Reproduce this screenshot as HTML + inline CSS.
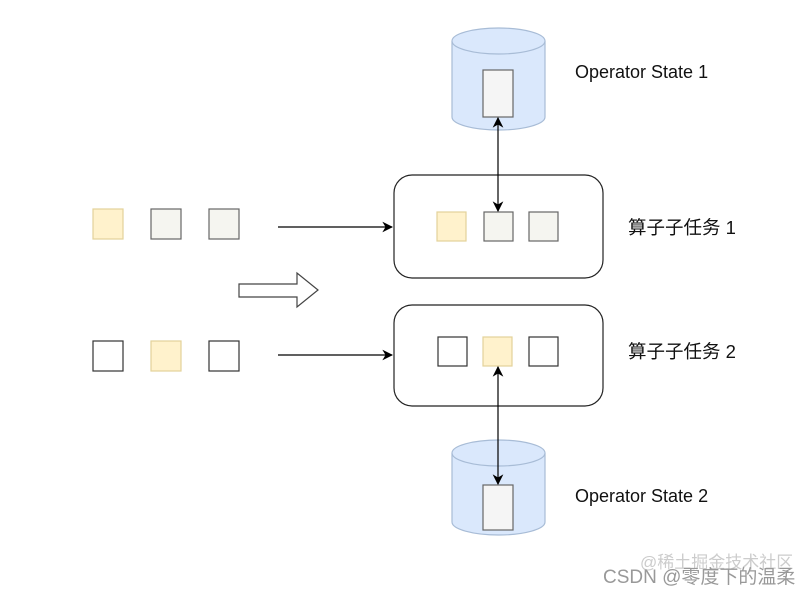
<!DOCTYPE html>
<html><head><meta charset="utf-8"><style>
html,body{margin:0;padding:0;background:#fff;width:809px;height:592px;overflow:hidden}
text{font-family:"Liberation Sans","Noto Sans CJK SC",sans-serif}
</style></head><body>
<svg width="809" height="592" viewBox="0 0 809 592" xmlns="http://www.w3.org/2000/svg">
<defs>
<marker id="a" viewBox="0 0 10 10" refX="9" refY="5" markerWidth="9" markerHeight="9" orient="auto-start-reverse"><path d="M0,0 L10,5 L0,10 L3,5 z" fill="#000"/></marker>
</defs>
<path d="M452,41 L452,117 A46.5,13 0 0 0 545,117 L545,41" fill="#dae8fc" stroke="#a8bcd6" stroke-width="1.2"/>
<ellipse cx="498.5" cy="41" rx="46.5" ry="13" fill="#dae8fc" stroke="#a8bcd6" stroke-width="1.2"/>
<rect x="483" y="70" width="30" height="47" fill="#f5f5f5" stroke="#666" stroke-width="1.2"/>
<path d="M452,453 L452,522 A46.5,13 0 0 0 545,522 L545,453" fill="#dae8fc" stroke="#a8bcd6" stroke-width="1.2"/>
<ellipse cx="498.5" cy="453" rx="46.5" ry="13" fill="#dae8fc" stroke="#a8bcd6" stroke-width="1.2"/>
<rect x="483" y="485" width="30" height="45" fill="#f5f5f5" stroke="#666" stroke-width="1.2"/>
<rect x="394" y="175" width="209" height="103" rx="18" fill="#fff" stroke="#222" stroke-width="1.2"/>
<rect x="394" y="305" width="209" height="101" rx="18" fill="#fff" stroke="#222" stroke-width="1.2"/>
<rect x="437" y="212" width="29" height="29" fill="#fff2cc" stroke="#e3d29a" stroke-width="1.2"/>
<rect x="484" y="212" width="29" height="29" fill="#f5f5f0" stroke="#666" stroke-width="1.2"/>
<rect x="529" y="212" width="29" height="29" fill="#f5f5f0" stroke="#666" stroke-width="1.2"/>
<rect x="438" y="337" width="29" height="29" fill="#fff" stroke="#333" stroke-width="1.2"/>
<rect x="483" y="337" width="29" height="29" fill="#fff2cc" stroke="#e3d29a" stroke-width="1.2"/>
<rect x="529" y="337" width="29" height="29" fill="#fff" stroke="#333" stroke-width="1.2"/>
<rect x="93" y="209" width="30" height="30" fill="#fff2cc" stroke="#e3d29a" stroke-width="1.2"/>
<rect x="151" y="209" width="30" height="30" fill="#f5f5f0" stroke="#666" stroke-width="1.2"/>
<rect x="209" y="209" width="30" height="30" fill="#f5f5f0" stroke="#666" stroke-width="1.2"/>
<rect x="93" y="341" width="30" height="30" fill="#fff" stroke="#333" stroke-width="1.2"/>
<rect x="151" y="341" width="30" height="30" fill="#fff2cc" stroke="#e3d29a" stroke-width="1.2"/>
<rect x="209" y="341" width="30" height="30" fill="#fff" stroke="#333" stroke-width="1.2"/>
<line x1="278" y1="227" x2="392" y2="227" stroke="#000" stroke-width="1.2" marker-end="url(#a)"/>
<line x1="278" y1="355" x2="392" y2="355" stroke="#000" stroke-width="1.2" marker-end="url(#a)"/>
<line x1="498" y1="118" x2="498" y2="211" stroke="#000" stroke-width="1.2" marker-start="url(#a)" marker-end="url(#a)"/>
<line x1="498" y1="367" x2="498" y2="484" stroke="#000" stroke-width="1.2" marker-start="url(#a)" marker-end="url(#a)"/>
<path d="M239,284 L297,284 L297,273 L318,290 L297,307 L297,297 L239,297 Z" fill="#fff" stroke="#444" stroke-width="1.2"/>
<text x="575" y="78" font-size="18" fill="#111">Operator State 1</text>
<text x="628" y="234" font-size="18.5" fill="#111">算子子任务 1</text>
<text x="628" y="358" font-size="18.5" fill="#111">算子子任务 2</text>
<text x="575" y="502" font-size="18" fill="#111">Operator State 2</text>
<text x="640" y="568" font-size="17" fill="#ccc">@稀土掘金技术社区</text>
<text x="603" y="583" font-size="19" fill="#999">CSDN @零度下的温柔</text>
</svg>
</body></html>
